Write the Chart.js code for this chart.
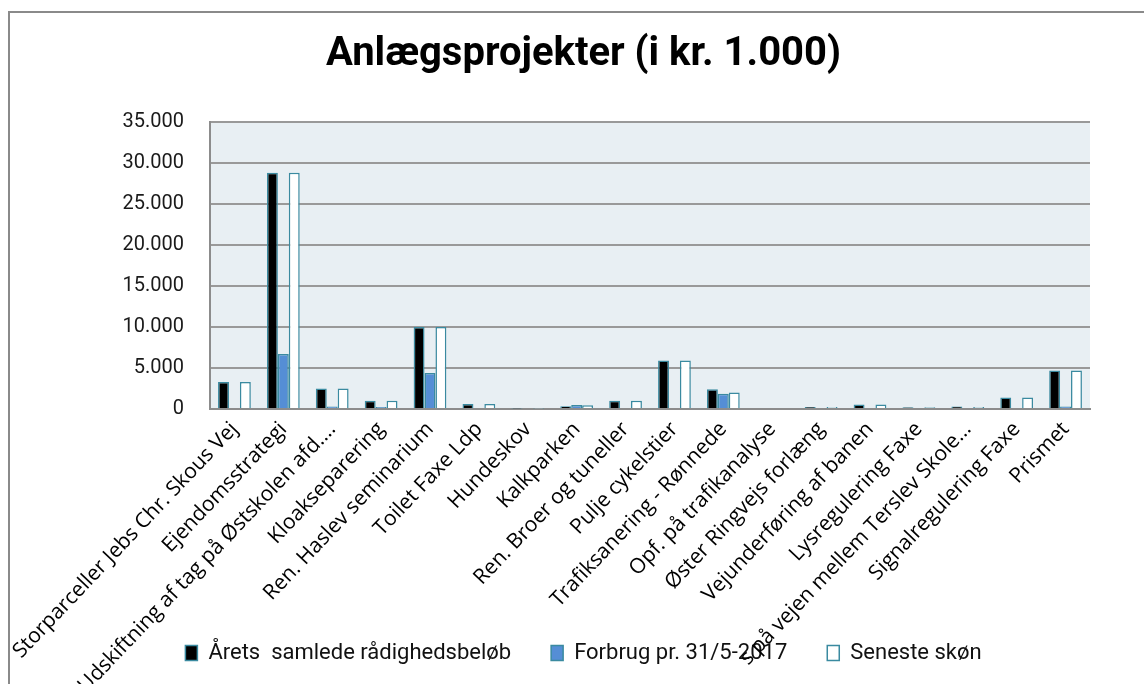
<!DOCTYPE html>
<html><head><meta charset="utf-8">
<script src="https://cdn.jsdelivr.net/npm/chart.js@4.4.0/dist/chart.umd.min.js"></script>
<style>html,body{margin:0;padding:0;background:#fff;} canvas{display:block;}</style>
</head><body>
<canvas id="c" width="1144" height="684"></canvas>
<script>
const categories = [
  'Storparceller Jebs Chr. Skous Vej',
  'Ejendomsstrategi',
  'Udskiftning af tag på Østskolen afd.…',
  'Kloakseparering',
  'Ren. Haslev seminarium',
  'Toilet Faxe Ldp',
  'Hundeskov',
  'Kalkparken',
  'Ren. Broer og tuneller',
  'Pulje cykelstier',
  'Trafiksanering - Rønnede',
  'Opf. på trafikanalyse',
  'Øster Ringvejs forlæng',
  'Vejunderføring af banen',
  'Lysregulering Faxe',
  's på vejen mellem Terslev Skole…',
  'Signalregulering Faxe',
  'Prismet'
];
const seriesNames = ['Årets  samlede rådighedsbeløb', 'Forbrug pr. 31/5-2017', 'Seneste skøn'];
const aaretsBeloeb = [3300, 28800, 2500, 1000, 10000, 600, 50, 350, 1000, 5900, 2400, 0, 250, 550, 200, 300, 1400, 4700];
const forbrug      = [0, 6700, 300, 250, 4400, 0, 0, 500, 0, 0, 1850, 0, 0, 0, 0, 0, 0, 300];
const senesteSkoen = [3300, 28800, 2500, 1000, 10000, 600, 50, 450, 1000, 5900, 2000, 0, 250, 550, 200, 250, 1400, 4700];
const yTickValues  = [0, 5000, 10000, 15000, 20000, 25000, 30000, 35000];

const fmt = v => String(v).replace(/\B(?=(\d{3})+(?!\d))/g, '.');
const edge = '#3a8aa0';

const bgPlugin = {
  id: 'bg',
  beforeDraw(chart) {
    const {ctx, chartArea: a, width, height} = chart;
    ctx.save();
    ctx.fillStyle = '#ffffff';
    ctx.fillRect(0, 0, width, height);
    ctx.strokeStyle = '#8a8a8a';
    ctx.lineWidth = 2;
    ctx.beginPath();
    ctx.moveTo(9, height);
    ctx.lineTo(9, 12);
    ctx.lineTo(width, 12);
    ctx.stroke();
    ctx.fillStyle = '#e8eff3';
    ctx.fillRect(a.left, a.top, a.right - a.left, a.bottom - a.top);
    ctx.restore();
  }
};

new Chart(document.getElementById('c'), {
  type: 'bar',
  data: {
    labels: categories,
    datasets: [
      {label: seriesNames[0], data: aaretsBeloeb, backgroundColor: '#000000', borderColor: edge, borderWidth: 1.5},
      {label: seriesNames[1], data: forbrug, backgroundColor: '#558ed5', borderColor: edge, borderWidth: 1.5},
      {label: seriesNames[2], data: senesteSkoen, backgroundColor: '#ffffff', borderColor: edge, borderWidth: 1.5}
    ]
  },
  options: {
    responsive: false,
    animation: false,
    layout: {padding: {left: 23, right: 0, top: 0, bottom: 10}},
    datasets: {bar: {categoryPercentage: 0.67, barPercentage: 1.0}},
    plugins: {
      tooltip: {enabled: false},
      title: {
        display: true,
        text: 'Anlægsprojekter (i kr. 1.000)',
        color: '#000',
        font: {family: "'Liberation Sans Narrow', 'Arial Narrow', Roboto, sans-serif", size: 40, weight: 'bold'},
        padding: {top: 31, bottom: 43}
      },
      legend: {
        position: 'bottom',
        labels: {
          color: '#111',
          font: {family: 'Roboto', size: 22},
          boxWidth: 12, boxHeight: 15, padding: 40
        }
      }
    },
    scales: {
      x: {
        grid: {display: false},
        border: {display: true, color: '#8c8c8c', width: 2},
        ticks: {color: '#000', font: {family: "'Open Sans'", size: 21}, minRotation: 46.5, maxRotation: 46.5, autoSkip: false, padding: 0},
        afterFit: s => { s.height = 193; s.paddingLeft = 0; s.paddingRight = 0; s._computeLabelArea = () => undefined; }
      },
      y: {
        min: 0, max: 35000,
        afterBuildTicks: s => { s.ticks = yTickValues.map(v => ({value: v})); },
        grid: {color: '#999999', lineWidth: 2, drawTicks: false},
        border: {display: true, color: '#8c8c8c', width: 2},
        ticks: {color: '#1a1a1a', font: {family: 'Roboto', size: 20}, padding: 26, callback: v => fmt(v)},
        afterFit: s => { s.width = 187; }
      },
      yr: {
        position: 'right', min: 0, max: 1,
        grid: {display: false}, border: {display: false}, ticks: {display: false},
        afterFit: s => { s.width = 54; }
      }
    }
  },
  plugins: [bgPlugin]
});
</script>
</body></html>
